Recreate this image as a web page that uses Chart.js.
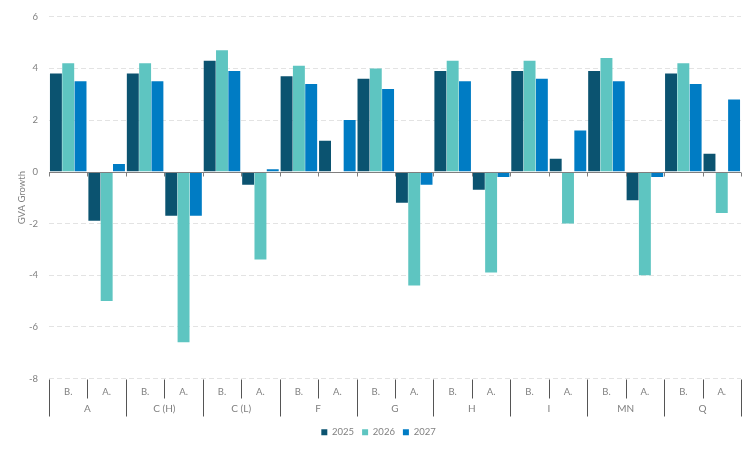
<!DOCTYPE html>
<html>
<head>
<meta charset="utf-8">
<script src="https://cdn.jsdelivr.net/npm/chart.js@4"></script>
<style>
  html, body { margin: 0; padding: 0; background: #fff; }
  #wrap { width: 756px; height: 450px; }
</style>
</head>
<body>
<div id="wrap"><canvas id="gvaChart"></canvas></div>
<script>
// sectors (outer labels) and sub-labels (inner labels)
const sectors = ["A", "C (H)", "C (L)", "F", "G", "H", "I", "MN", "Q"];
const subLabels = ["B.", "A."];
const yTicks = [6, 4, 2, 0, -2, -4, -6, -8];

// one value per sector / sub-label pair, in order
const growth2025 = [3.8, -1.9, 3.8, -1.7, 4.3, -0.5, 3.7, 1.2, 3.6, -1.2, 3.9, -0.7, 3.9, 0.5, 3.9, -1.1, 3.8, 0.7];
const growth2026 = [4.2, -5.0, 4.2, -6.6, 4.7, -3.4, 4.1, 0, 4.0, -4.4, 4.3, -3.9, 4.3, -2.0, 4.4, -4.0, 4.2, -1.6];
const growth2027 = [3.5, 0.3, 3.5, -1.7, 3.9, 0.1, 3.4, 2.0, 3.2, -0.5, 3.5, -0.2, 3.6, 1.6, 3.5, -0.2, 3.4, 2.8];

const labels = [];
sectors.forEach(s => subLabels.forEach(sub => labels.push(sub)));

const FONT = "Lato, 'Noto Sans', sans-serif";
const TEXT = "#808080";

// draws the zero axis line, its ticks and the two-level category axis
const groupedAxis = {
    id: "groupedAxis",
    afterDatasetsDraw(chart) {
        const { ctx, chartArea, scales } = chart;
        const x = scales.x, y = scales.y;
        const n = labels.length;
        const step = (chartArea.right - chartArea.left) / n;
        const zeroY = Math.round(y.getPixelForValue(0)) + 0.5;

        ctx.save();
        // zero line with ticks
        ctx.strokeStyle = "#7f7f7f";
        ctx.lineWidth = 1;
        ctx.beginPath();
        ctx.moveTo(chartArea.left, zeroY);
        ctx.lineTo(chartArea.right, zeroY);
        for (let i = 0; i <= n; i++) {
            const px = Math.round(chartArea.left + i * step) + 0.5;
            ctx.moveTo(px, zeroY);
            ctx.lineTo(px, zeroY + 4);
        }
        ctx.stroke();

        // bottom category labels
        const base = chartArea.bottom + 1;
        ctx.strokeStyle = "#555";
        ctx.beginPath();
        for (let i = 0; i <= n; i++) {
            const px = Math.round(chartArea.left + i * step) + 0.5;
            ctx.moveTo(px, base);
            ctx.lineTo(px, base + (i % 2 === 0 ? 37 : 19));
        }
        ctx.stroke();

        ctx.fillStyle = TEXT;
        ctx.textAlign = "center";
        ctx.textBaseline = "middle";
        ctx.font = "9.5px " + FONT;
        labels.forEach((lab, i) => {
            ctx.fillText(lab, x.getPixelForValue(i), base + 12);
        });
        ctx.font = "10px " + FONT;
        sectors.forEach((s, i) => {
            const cx = chartArea.left + (i * 2 + 1) * step;
            ctx.fillText(s, cx, base + 29);
        });
        ctx.restore();
    }
};

new Chart(document.getElementById("gvaChart"), {
    type: "bar",
    data: {
        labels: labels,
        datasets: [
            { label: "2025", data: growth2025, backgroundColor: "#0b5370" },
            { label: "2026", data: growth2026, backgroundColor: "#5ec5c1" },
            { label: "2027", data: growth2027, backgroundColor: "#007cc4" }
        ]
    },
    plugins: [groupedAxis],
    options: {
        responsive: true,
        maintainAspectRatio: false,
        animation: false,
        layout: { padding: { top: 5, right: 15, left: 16, bottom: 3 } },
        datasets: {
            bar: { categoryPercentage: 0.96, barPercentage: 0.97, borderWidth: 0 }
        },
        plugins: {
            tooltip: { enabled: false },
            legend: {
                position: "bottom",
                labels: {
                    boxWidth: 6,
                    boxHeight: 6,
                    padding: 8,
                    color: TEXT,
                    font: { family: FONT, size: 9.5 }
                }
            }
        },
        scales: {
            x: {
                grid: { display: false },
                border: { display: false },
                ticks: { display: false },
                afterFit(scale) { scale.height = 41; }
            },
            y: {
                min: -8,
                max: 6,
                afterBuildTicks(scale) { scale.ticks = yTicks.map(v => ({ value: v })); },
                grid: {
                    color: ctx => ctx.tick && ctx.tick.value === 0 ? "rgba(0,0,0,0)" : "#e3e3e3",
                    drawTicks: false
                },
                border: { display: false, dash: [5, 3] },
                ticks: {
                    padding: 11,
                    color: TEXT,
                    font: { family: FONT, size: 9.5 }
                },
                title: {
                    display: true,
                    text: "GVA Growth",
                    color: TEXT,
                    padding: { top: 0, bottom: 2 },
                    font: { family: FONT, size: 9.5 }
                },
                afterFit(scale) { scale.width = 33; }
            }
        }
    }
});
</script>
</body>
</html>
